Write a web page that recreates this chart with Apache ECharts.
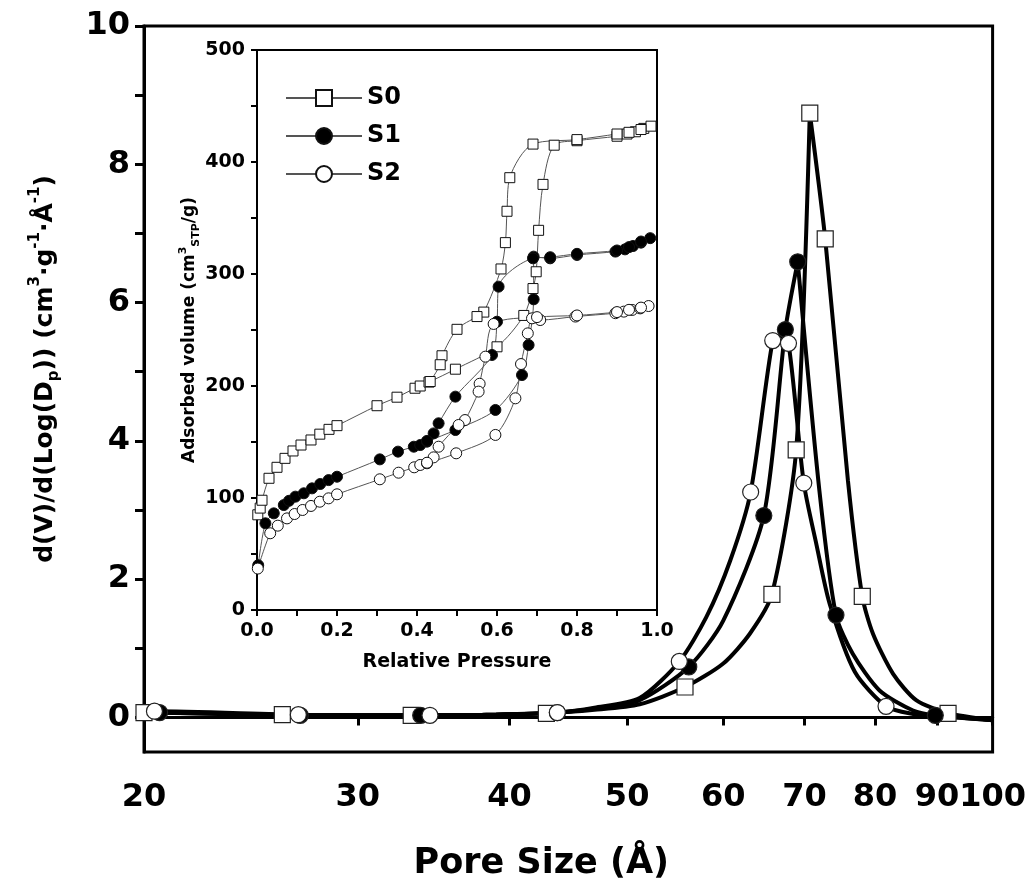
<!DOCTYPE html>
<html><head><meta charset="utf-8">
<script src="https://cdn.jsdelivr.net/npm/echarts@6/dist/echarts.min.js"></script>
<style>html,body{margin:0;padding:0;background:#fff}#c{width:1029px;height:896px}</style>
</head><body><div id="c"></div>
<script>
const FONT = 'DejaVu Sans';

// ---- Main chart: pore size distribution (x = pore size in Å, log scale) ----
const poreTicks = [20, 30, 40, 50, 60, 70, 80, 90, 100];
const psdTickValues = [0, 1, 2, 3, 4, 5, 6, 7, 8, 9, 10];
const psdLabelValues = [0, 2, 4, 6, 8, 10];

const s0Markers = [[20.0,0.07],[26.0,0.04],[33.2,0.03],[42.9,0.06],[55.8,0.44],[65.8,1.78],[68.9,3.87],[70.7,8.74],[72.8,6.92],[78.1,1.75],[91.9,0.06]];
const s0Curve   = [[38,0.04],[47,0.11],[51.2,0.19],[60.0,0.78],[63.1,1.21],[76.0,3.43],[79.7,1.21],[82.8,0.63],[86.5,0.25],[100,-0.04]];
const s0Peak = 70.7;

const s1Markers = [[20.6,0.07],[26.9,0.03],[33.8,0.03],[43.8,0.07],[56.2,0.73],[64.8,2.92],[67.5,5.61],[69.1,6.59],[74.3,1.48],[89.7,0.03]];
const s1Curve   = [[20,0.08],[39,0.04],[47,0.13],[51.2,0.25],[60.0,1.40],[72.0,3.28],[76.7,0.92],[80.7,0.39],[86.0,0.10],[100,-0.04]];
const s1Peak = 69.1;

const s2Markers = [[20.4,0.09],[26.8,0.04],[34.4,0.03],[43.8,0.07],[55.2,0.81],[63.2,3.26],[65.9,5.45],[67.9,5.41],[69.9,3.39],[81.7,0.16]];
const s2Curve   = [[20,0.09],[39,0.04],[47,0.14],[51.2,0.28],[58.1,1.45],[60.8,2.27],[66.9,5.52],[71.6,2.5],[73.4,1.65],[77.0,0.66],[86.0,0.05],[90,0.02],[100,-0.04]];
const s2Peak = 66.9;

// ---- Inset: N2 isotherms (relative pressure, adsorbed volume) ----
const s0Ads = [[0.002,85],[0.008,91],[0.0125,98],[0.03,117.6],[0.05,127.4],[0.07,135.4],[0.09,142],[0.11,147.3],[0.135,151.8],[0.157,157],[0.18,161.3],[0.2,164.6],[0.3,182.4],[0.35,190],[0.395,198],[0.408,200],[0.43,203.5],[0.496,215],[0.6,235],[0.667,263],[0.69,287],[0.698,302],[0.704,339],[0.715,380],[0.743,415],[0.8,419],[0.9,423],[0.925,425],[0.946,427],[0.967,430],[0.985,432]];
const s0Des = [[0.96,429],[0.93,426.5],[0.9,425],[0.8,420],[0.69,416],[0.632,386],[0.625,356],[0.621,328],[0.61,304.5],[0.567,266],[0.55,262],[0.5,250.6],[0.4625,227],[0.458,219],[0.433,204]];

const s1Ads = [[0.003,40],[0.021,77.4],[0.042,86.3],[0.067,93.7],[0.08,97.5],[0.096,101.2],[0.117,104.2],[0.1375,108.6],[0.158,112.5],[0.179,116],[0.2,119],[0.307,134.5],[0.3525,141.4],[0.392,145.8],[0.408,147.3],[0.425,150.3],[0.496,160.7],[0.596,178.6],[0.6625,209.8],[0.679,236.6],[0.6916,277.4],[0.6916,315.5],[0.733,314],[0.8,317],[0.896,320],[0.92,322],[0.94,325],[0.96,328],[0.983,332]];
const s1Des = [[0.96,329],[0.93,324],[0.9,321],[0.8,318],[0.733,315],[0.69,314],[0.604,288.7],[0.6,257.4],[0.5875,227.7],[0.496,190.5],[0.454,166.7],[0.4416,157.7],[0.425,151]];

const s2Ads = [[0.002,37],[0.033,68.5],[0.052,75.3],[0.075,81.8],[0.094,85.7],[0.114,89.3],[0.135,92.9],[0.157,96.7],[0.179,99.7],[0.2,103.3],[0.307,116.7],[0.354,122.6],[0.393,127.4],[0.408,129.5],[0.425,131],[0.498,139.9],[0.596,156.3],[0.646,189],[0.66,219.6],[0.677,247],[0.6875,260.4],[0.708,258.9],[0.796,262],[0.896,265],[0.917,266.4],[0.938,267.9],[0.958,269.3],[0.979,271.4]];
const s2Des = [[0.96,270],[0.93,268],[0.9,266],[0.8,263],[0.7,261.5],[0.5916,255.4],[0.571,226.2],[0.5566,202],[0.554,195],[0.52,169.6],[0.504,165.2],[0.454,145.8],[0.4416,136.3],[0.425,131.5]];

const lg = v => Math.log10(v);
const toLog = arr => arr.map(p => [lg(p[0]), p[1]]);
const allPts = (m, c) => m.concat(c).sort((a, b) => a[0] - b[0]);

const bold = (size) => ({ fontFamily: FONT, fontWeight: 'bold', fontSize: size, color: '#000' });

function mainLines(name, m, c, peak) {
  const pts = allPts(m, c);
  const left = pts.filter(p => p[0] <= peak), right = pts.filter(p => p[0] >= peak);
  const mk = (part, d) => ({ name: name + ' PSD line ' + part, type: 'line', xAxisIndex: 0, yAxisIndex: 0, data: toLog(d),
    smooth: 0.25, symbol: 'none', showSymbol: false, lineStyle: { color: '#000', width: 4 }, z: 2, silent: true });
  return [mk('a', left), mk('b', right)];
}
function mainMarks(name, m, sym, fill, size) {
  return { name: name + ' PSD', type: 'scatter', xAxisIndex: 0, yAxisIndex: 0, data: toLog(m),
    symbol: sym, symbolSize: size, itemStyle: { color: fill, borderColor: '#222', borderWidth: 1.2, opacity: 1 }, z: 3, silent: true };
}
function inset(name, ads, des, sym, fill, size) {
  return { name: name, type: 'line', xAxisIndex: 1, yAxisIndex: 1, data: ads.concat(des),
    smooth: 0.3, symbol: sym, symbolSize: size, showSymbol: true, showAllSymbol: true,
    lineStyle: { color: '#555', width: 1 }, itemStyle: { color: fill, borderColor: '#111', borderWidth: 1 }, z: 5, silent: true };
}

const chart = echarts.init(document.getElementById('c'), null, { renderer: 'canvas' });
chart.setOption({
  animation: false,
  backgroundColor: '#fff',
  grid: [
    { left: 144, top: 26, width: 849, height: 726, show: true, borderColor: '#000', borderWidth: 3, backgroundColor: 'transparent' },
    { left: 257, top: 50, width: 400, height: 560, show: true, borderColor: '#000', borderWidth: 2, backgroundColor: 'transparent' }
  ],
  legend: {
    data: ['S0', 'S1', 'S2'], orient: 'vertical', left: 280, top: 81, itemWidth: 76, itemHeight: 20, itemGap: 14,
    selectedMode: false, textStyle: bold(24)
  },
  xAxis: [
    { gridIndex: 0, type: 'value', min: lg(20), max: 2,
      axisLine: { lineStyle: { color: '#000', width: 3 } },
      axisTick: { customValues: poreTicks.map(lg), length: 8, lineStyle: { color: '#000', width: 3 } },
      axisLabel: Object.assign({ customValues: poreTicks.map(lg), margin: 30,
        formatter: v => String(Math.round(Math.pow(10, v))) }, bold(32)),
      splitLine: { show: false },
      name: 'Pore Size (Å)', nameLocation: 'middle', nameGap: 94,
      nameTextStyle: Object.assign({ padding: [0, 54, 0, 0] }, bold(35)) },
    { gridIndex: 1, type: 'value', min: 0, max: 1, interval: 0.2,
      axisLine: { lineStyle: { color: '#000', width: 2 } },
      axisTick: { length: 6, lineStyle: { color: '#000', width: 2 } },
      minorTick: { show: true, splitNumber: 2, length: 6, lineStyle: { color: '#000', width: 2 } },
      axisLabel: Object.assign({ margin: 12, formatter: v => v.toFixed(1) }, bold(19)),
      splitLine: { show: false },
      name: 'Relative Pressure', nameLocation: 'middle', nameGap: 43, nameTextStyle: bold(19) }
  ],
  yAxis: [
    { gridIndex: 0, type: 'value', min: -0.5, max: 10,
      axisLine: { lineStyle: { color: '#000', width: 3 } },
      axisTick: { customValues: psdTickValues, length: 9, lineStyle: { color: '#000', width: 3 } },
      axisLabel: Object.assign({ customValues: psdLabelValues, margin: 14 }, bold(32)),
      splitLine: { show: false },
      name: '{a|d(V)/d(Log(D}{sub|p}{a|)) (cm}{sup|3}{a|·g}{sup|-1}{a|·Å}{sup|-1}{a|)}',
      nameLocation: 'middle', nameRotate: 90, nameGap: 82,
      nameTextStyle: { padding: [0, 0, 0, 40], rich: {
        a: { fontFamily: FONT, fontWeight: 'bold', fontSize: 25, color: '#000', lineHeight: 34 },
        sup: { fontFamily: FONT, fontWeight: 'bold', fontSize: 15, color: '#000', verticalAlign: 'top', lineHeight: 15 },
        sub: { fontFamily: FONT, fontWeight: 'bold', fontSize: 15, color: '#000', verticalAlign: 'bottom', lineHeight: 15 }
      } } },
    { gridIndex: 1, type: 'value', min: 0, max: 500, interval: 100,
      axisLine: { lineStyle: { color: '#000', width: 2 } },
      axisTick: { length: 6, lineStyle: { color: '#000', width: 2 } },
      minorTick: { show: true, splitNumber: 2, length: 6, lineStyle: { color: '#000', width: 2 } },
      axisLabel: Object.assign({ margin: 12 }, bold(19)),
      splitLine: { show: false },
      name: '{a|Adsorbed volume (cm}{sup|3}{sub|STP}{a|/g)}',
      nameLocation: 'middle', nameRotate: 90, nameGap: 44,
      nameTextStyle: { rich: {
        a: { fontFamily: FONT, fontWeight: 'bold', fontSize: 17, color: '#000', lineHeight: 24 },
        sup: { fontFamily: FONT, fontWeight: 'bold', fontSize: 11, color: '#000', verticalAlign: 'top', lineHeight: 11 },
        sub: { fontFamily: FONT, fontWeight: 'bold', fontSize: 11, color: '#000', verticalAlign: 'bottom', lineHeight: 11 }
      } } }
  ],
  series: [].concat(
    mainLines('S0', s0Markers, s0Curve, s0Peak),
    mainLines('S1', s1Markers, s1Curve, s1Peak),
    mainLines('S2', s2Markers, s2Curve, s2Peak),
    [
      mainMarks('S0', s0Markers, 'rect', '#fff', 16),
      mainMarks('S1', s1Markers, 'circle', '#000', 16),
      mainMarks('S2', s2Markers, 'circle', '#fff', 16),
      inset('S0', s0Ads, s0Des, 'rect', '#fff', 10),
      inset('S1', s1Ads, s1Des, 'circle', '#000', 11),
      inset('S2', s2Ads, s2Des, 'circle', '#fff', 11)
    ])
});
</script></body></html>
